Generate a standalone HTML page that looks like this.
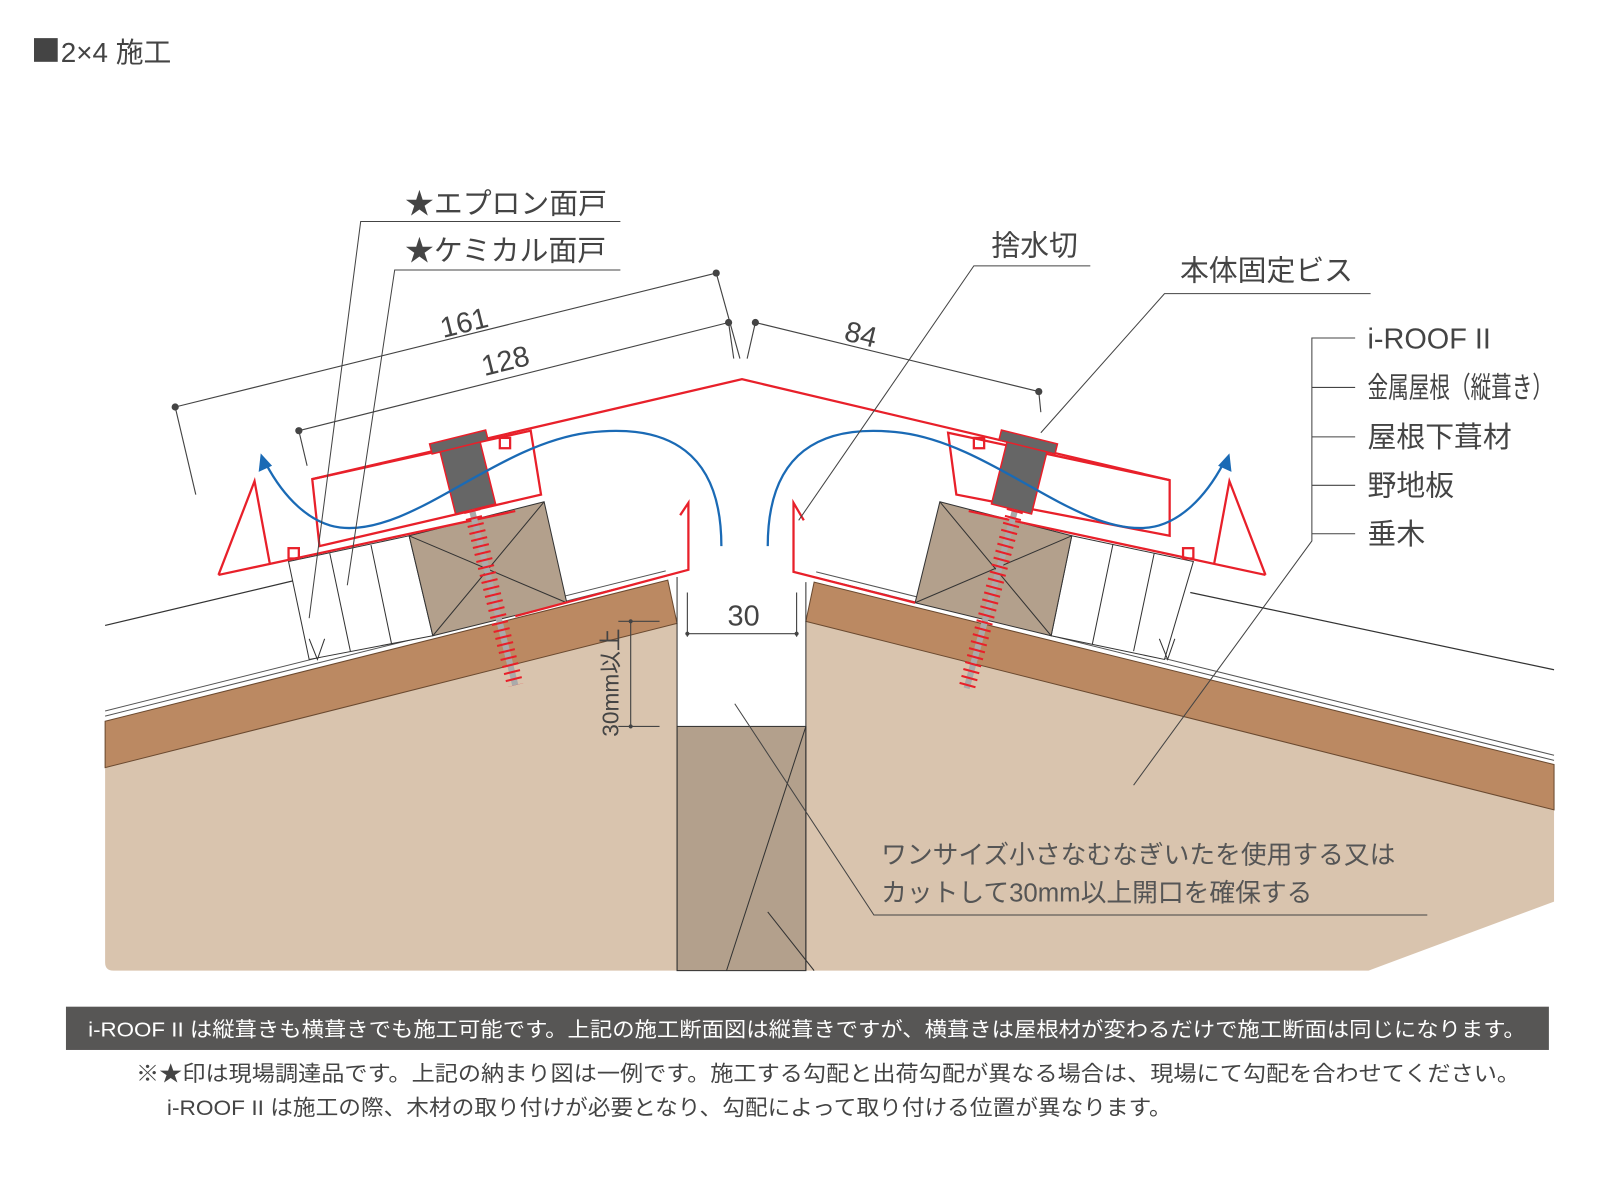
<!DOCTYPE html>
<html><head><meta charset="utf-8"><style>
html,body{margin:0;padding:0;background:#fff;}
svg{display:block;}
text{font-family:"Liberation Sans","Noto Sans CJK JP",sans-serif;}
</style></head><body>
<svg width="1620" height="1187" viewBox="0 0 1572 1152" preserveAspectRatio="none" xmlns="http://www.w3.org/2000/svg">
<rect x="33" y="37" width="23" height="23" fill="#444"/>
<text x="59" y="60" font-size="27" fill="#444">2×4 施工</text>

<!-- beige bodies -->
<path d="M102,745 L657,605 L657,942 L110,942 Q102,942 102,934 Z" fill="#d9c4ae"/>
<path d="M782,603 L1508,786 L1508,875 L1328,942 L782,942 Z" fill="#d9c4ae"/>
<!-- brown bands -->
<path d="M102,700 L648,563 L657,605 L102,745 Z" fill="#bb8962" stroke="#6b4a30" stroke-width="1"/>
<path d="M790,565 L1508,742 L1508,786 L782,603 Z" fill="#bb8962" stroke="#6b4a30" stroke-width="1"/>
<!-- metal roof lines -->
<path d="M102,690 L646,554 M102,695 L647,559" stroke="#555" stroke-width="1" fill="none"/>
<path d="M792,555 L1508,733 M791,560 L1508,738" stroke="#555" stroke-width="1" fill="none"/>
<path d="M102,607 L300,560 M1155,575 L1508,650" stroke="#333" stroke-width="1.2" fill="none"/>
<!-- center rafter -->
<rect x="657" y="705" width="125" height="237" fill="#b3a08c" stroke="#333" stroke-width="1"/>
<line x1="657" y1="560" x2="657" y2="942" stroke="#333"/>
<line x1="782" y1="565" x2="782" y2="942" stroke="#333"/>
<line x1="705" y1="942" x2="782" y2="705" stroke="#333"/>
<line x1="745" y1="885" x2="790" y2="942" stroke="#333"/>

<!-- foam blocks -->
<path d="M280,545 L397,520 L420,617 L300,640 Z" fill="#fff" stroke="#333"/>
<path d="M320,537 L340,632 M360,529 L380,625" stroke="#333" fill="none"/>
<path d="M300,620 L308,640 L315,620" stroke="#333" fill="none"/>
<path d="M1040,520 L1158,545 L1130,640 L1020,617 Z" fill="#fff" stroke="#333"/>
<path d="M1080,528 L1060,625 M1120,537 L1100,632" stroke="#333" fill="none"/>
<path d="M1125,620 L1133,640 L1140,620" stroke="#333" fill="none"/>
<!-- wood blocks -->
<path d="M397,520 L528,487 L550,585 L420,617 Z" fill="#b3a08c" stroke="#333"/>
<path d="M397,520 L550,585 M528,487 L420,617" stroke="#333"/>
<path d="M912,487 L1040,520 L1020,617 L888,585 Z" fill="#b3a08c" stroke="#333"/>
<path d="M912,487 L1020,617 M1040,520 L888,585" stroke="#333"/>

<!-- red ridge cap -->
<g fill="none" stroke="#e8202a" stroke-width="2.2">
<path d="M303,465 L515,418 L525,480 L310,530 Z"/>
<path d="M303,465 L720,368 L1135,466"/>
<path d="M920,420 L1135,466 L1135,520 L928,480 Z"/>
<path d="M212,558 L247,467 L262,548 M212,558 L500,496"/>
<path d="M500,598 L668,553 L668,488 L660,500"/>
<path d="M1228,558 L1193,467 L1178,548 M1228,558 L940,496"/>
<path d="M888,585 L770,555 L770,488 L780,505"/>
<rect x="280" y="532" width="10" height="10"/>
<rect x="485" y="425" width="10" height="10"/>
<rect x="945" y="425" width="10" height="10"/>
<rect x="1148" y="532" width="10" height="10"/>
</g>
<!-- screws -->
<g transform="rotate(-14 453 460)">
<rect x="433" y="430" width="40" height="65" fill="#666" stroke="#e8202a" stroke-width="1.5"/>
<rect x="425" y="423" width="56" height="10" fill="#666" stroke="#e8202a" stroke-width="1.5"/>
</g>
<path d="M458,495 L500,665" stroke="#aaa" stroke-width="6"/>
<path d="M458,495 L500,665" stroke="#e8202a" stroke-width="16" stroke-dasharray="2 5" fill="none"/>
<g transform="rotate(14 990 460)">
<rect x="970" y="430" width="40" height="65" fill="#666" stroke="#e8202a" stroke-width="1.5"/>
<rect x="962" y="423" width="56" height="10" fill="#666" stroke="#e8202a" stroke-width="1.5"/>
</g>
<path d="M985,495 L938,668" stroke="#aaa" stroke-width="6"/>
<path d="M985,495 L938,668" stroke="#e8202a" stroke-width="16" stroke-dasharray="2 5" fill="none"/>

<!-- blue arrows -->
<g fill="none" stroke="#1a6ab5" stroke-width="2.2">
<path d="M700,530 C700,440 650,410 570,420 C480,432 400,520 330,512 C300,508 275,482 258,450"/>
<path d="M745,530 C745,440 795,410 875,420 C965,432 1045,520 1115,512 C1145,508 1170,482 1187,450"/>
</g>
<path d="M253,440 L251,458 L264,452 Z" fill="#1a6ab5"/>
<path d="M1193,440 L1195,458 L1182,452 Z" fill="#1a6ab5"/>

<!-- dimensions -->
<g stroke="#444" stroke-width="1.1" fill="none">
<path d="M170,395 L695,265 M170,395 L190,480 M695,265 L718,348"/>
<path d="M290,418 L707,313 M290,418 L298,452 M707,313 L712,348"/>
<path d="M733,313 L1008,380 M733,313 L725,348 M1008,380 L1010,400"/>
<path d="M667,615 L773,615 M667,575 L667,618 M773,575 L773,618"/>
<path d="M612,603 L612,705 M600,603 L640,603 M600,705 L640,705"/>
</g>
<g fill="#444"><circle cx="170" cy="395" r="3.5"/><circle cx="695" cy="265" r="3.5"/><circle cx="290" cy="418" r="3.5"/><circle cx="707" cy="313" r="3.5"/><circle cx="733" cy="313" r="3.5"/><circle cx="1008" cy="380" r="3.5"/><circle cx="667" cy="615" r="2"/><circle cx="773" cy="615" r="2"/><circle cx="612" cy="603" r="2"/><circle cx="612" cy="705" r="2"/></g>
<text x="430" y="328" font-size="28" fill="#444" transform="rotate(-14 430 328)">161</text>
<text x="470" y="365" font-size="28" fill="#444" transform="rotate(-14 470 365)">128</text>
<text x="818" y="330" font-size="28" fill="#444" transform="rotate(14 818 330)">84</text>
<text x="706" y="607" font-size="28" fill="#444">30</text>
<text x="600" y="715" font-size="22" fill="#444" transform="rotate(-90 600 715)">30mm以上</text>

<!-- labels / leaders -->
<g stroke="#444" stroke-width="1" fill="none">
<path d="M602,215 L350,215 L300,600"/>
<path d="M602,262 L383,262 L337,568"/>
<path d="M1058,258 L945,258 L775,505"/>
<path d="M1330,285 L1130,285 L1010,420"/>
<path d="M1315,328 L1273,328 L1273,525 L1100,762 M1273,376 L1315,376 M1273,424 L1315,424 M1273,471 L1315,471 M1273,518 L1315,518"/>
<path d="M713,683 L848,888 L1385,888"/>
</g>
<g font-size="28" fill="#444">
<text x="393" y="207">★エプロン面戸</text>
<text x="393" y="253">★ケミカル面戸</text>
<text x="962" y="248">捨水切</text>
<text x="1145" y="272">本体固定ビス</text>
<text x="1327" y="338">i-ROOF II</text>
<text x="1327" y="386" textLength="180" lengthAdjust="spacingAndGlyphs">金属屋根（縦葺き）</text>
<text x="1327" y="434">屋根下葺材</text>
<text x="1327" y="481">野地板</text>
<text x="1327" y="528">垂木</text>
</g>
<g font-size="25" fill="#555">
<text x="855" y="838">ワンサイズ小さなむなぎいたを使用する又は</text>
<text x="855" y="875">カットして30mm以上開口を確保する</text>
</g>

<!-- footer -->
<rect x="64" y="977" width="1439" height="42" fill="#575655"/>
<text x="783" y="1006" font-size="20" fill="#fff" text-anchor="middle" textLength="1395" lengthAdjust="spacingAndGlyphs">i-ROOF II は縦葺きも横葺きでも施工可能です。上記の施工断面図は縦葺きですが、横葺きは屋根材が変わるだけで施工断面は同じになります。</text>
<text x="132" y="1049" font-size="21" fill="#444" textLength="1343" lengthAdjust="spacingAndGlyphs">※★印は現場調達品です。上記の納まり図は一例です。施工する勾配と出荷勾配が異なる場合は、現場にて勾配を合わせてください。</text>
<text x="162" y="1082" font-size="21" fill="#444" textLength="975" lengthAdjust="spacingAndGlyphs">i-ROOF II は施工の際、木材の取り付けが必要となり、勾配によって取り付ける位置が異なります。</text>
</svg>
</body></html>
